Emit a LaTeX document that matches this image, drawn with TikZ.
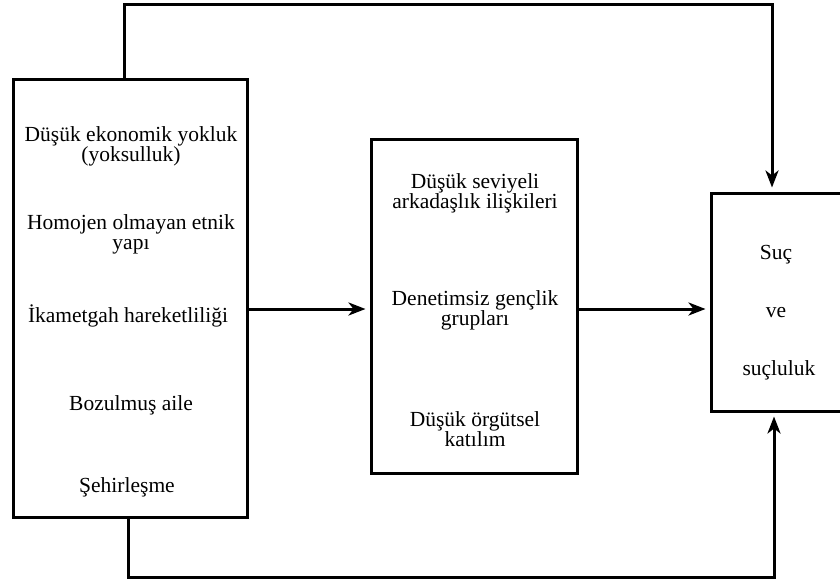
\documentclass[tikz,border=0pt]{standalone}
\usepackage{fontspec}
\setmainfont{Liberation Serif}
\usetikzlibrary{arrows.meta}
\usetikzlibrary{positioning}

\begin{document}
\begin{tikzpicture}[x=1pt,y=-1pt,
  kutu/.style={draw,line width=3pt,inner sep=0pt},
  yazi/.style={align=center,font=\fontsize{21.5}{20}\selectfont,inner sep=0pt,anchor=base},
  ok/.style={-{Stealth[length=17pt,width=13pt,inset=5pt]},line width=3pt,shorten >=4pt}]
\useasboundingbox (0,0) rectangle (840,581);

\node[kutu,minimum width=234pt,minimum height=438pt] (sol) at (130,298) {};
\node[kutu,minimum width=206pt,minimum height=334pt] (orta) at (474,306) {};
\node[kutu,minimum width=136pt,minimum height=218pt] (sag) at (779,302) {};

\node[yazi] (ekonomi) at (131,161) {Düşük ekonomik yokluk\\(yoksulluk)};
\node[yazi] (etnik) at (131,249) {Homojen olmayan etnik\\yapı};
\node[yazi] (ikamet) at (128,322) {İkametgah hareketliliği};
\node[yazi] (aile) at (131,410) {Bozulmuş aile};
\node[yazi] (sehir) at (127,492) {Şehirleşme};

\node[yazi] (arkadas) at (475,208) {Düşük seviyeli\\arkadaşlık ilişkileri};
\node[yazi] (genclik) at (475,325) {Denetimsiz gençlik\\grupları};
\node[yazi] (katilim) at (475,446) {Düşük örgütsel\\katılım};

\node[yazi] (suc) at (776,259) {Suç};
\node[yazi] (ve) at (776,317) {ve};
\node[yazi] (sucluluk) at (779,375) {suçluluk};

\coordinate (ust) at (772,4);
\coordinate (alt) at (774,577);
\draw[ok] ([xshift=-6pt]sol.north) |- (ust) -- (ust |- sag.north);
\draw[ok] ([xshift=-2pt]sol.south) |- (alt) -- (alt |- sag.south);
\draw[ok] ([yshift=-11pt]sol.east) -- ([yshift=-3pt]orta.west);
\draw[ok] ([yshift=-3pt]orta.east) -- ([yshift=-7pt]sag.west);
\end{tikzpicture}
\end{document}
